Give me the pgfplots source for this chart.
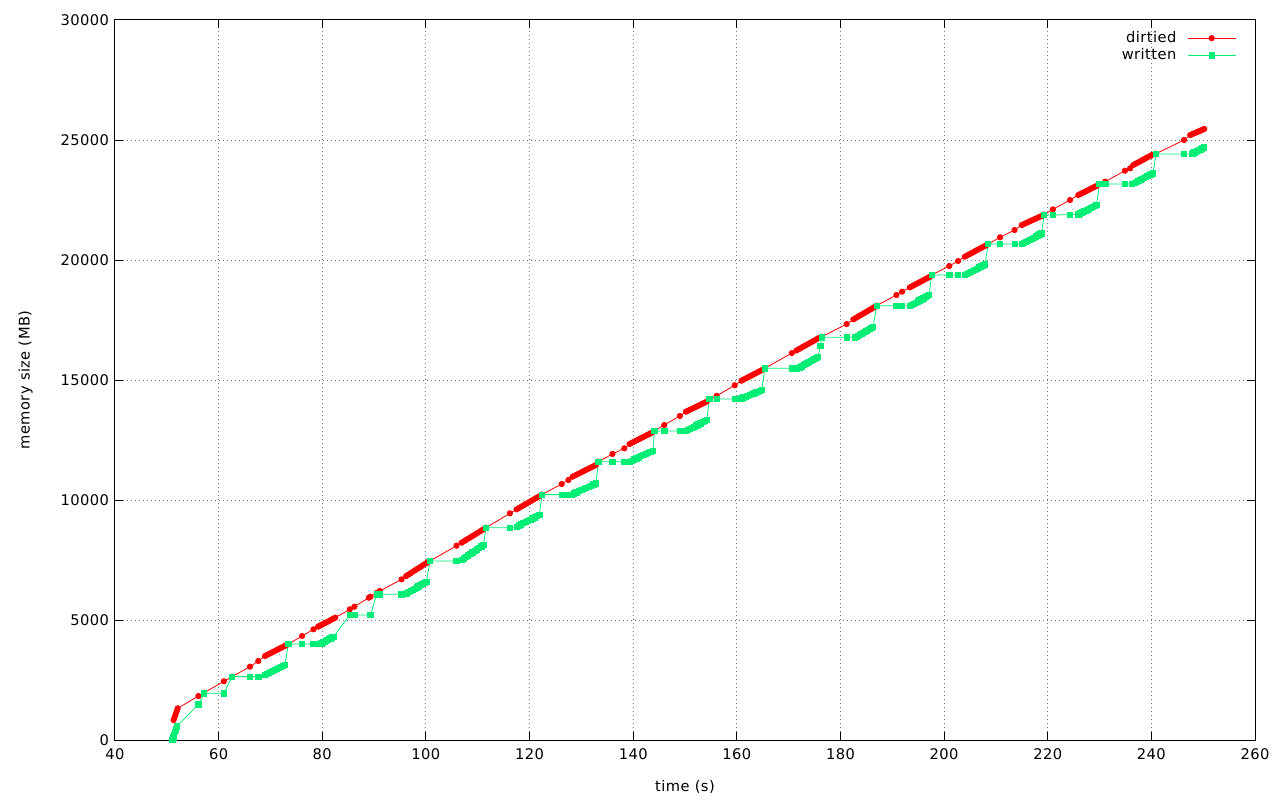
\documentclass[border=0pt]{standalone}
\usepackage{fontspec}
\setmainfont{DejaVu Sans}[LetterSpace=3]
\usepackage{pgfplots}
\pgfplotsset{compat=1.18}
\definecolor{dred}{RGB}{255,0,0}
\definecolor{wgreen}{RGB}{0,238,118}
\begin{document}
\begin{tikzpicture}[font=\fontsize{11pt}{13pt}\selectfont]
\begin{axis}[
  at={(0,0)}, anchor=south west,
  scale only axis, width=855pt, height=540pt,
  xmin=40, xmax=260, ymin=0, ymax=30000,
  xtick={40,60,...,260}, ytick={0,5000,...,30000},
  scaled ticks=false,
  /pgf/number format/.cd, 1000 sep={}, assume math mode=true, /pgfplots/.cd,
  tick align=inside, xtick pos=both, ytick pos=both,
  major tick length=6pt,
  axis line style={line width=0.75pt, black},
  every tick/.style={black, line width=0.75pt},
  grid=major,
  major grid style={black!55, line width=0.75pt, dash pattern=on 0.75pt off 2.25pt},
  yticklabel style={xshift=-1pt},
  xticklabel style={yshift=-3pt},
  every axis x label/.style={at={(axis description cs:0.5,0)}, anchor=center, yshift=-35pt},
  every axis y label/.style={at={(axis description cs:0,0.5)}, xshift=-67pt, rotate=90, anchor=center},
  xlabel={time (s)}, ylabel={memory size (MB)},
  legend style={draw=none, fill=none, at={(1,1)}, anchor=north east, xshift=-11pt, yshift=-5pt,
    row sep=0pt, nodes={inner sep=1.5pt}},
  legend cell align=right, legend plot pos=right,
  legend image code/.code={\path[draw=none,fill=none] (0pt,-0.5pt) rectangle (7pt,0.5pt);\draw[mark repeat=2,mark phase=2,#1] plot coordinates {(7pt,0pt) (25pt,0pt) (43pt,0pt)};},
]
\addplot[color=dred, line width=0.6pt, mark=*, mark size=2pt, mark options={solid, fill=dred, draw=dred}] table {
x y
51.30 830
51.46 928
51.62 1026
51.78 1124
51.94 1222
52.10 1320
56.10 1833
57.20 1970
61.00 2444
62.60 2640
66.05 3055
67.65 3292
68.95 3500
69.37 3546
69.78 3592
70.20 3637
70.61 3683
71.03 3729
71.44 3775
71.86 3821
72.27 3866
72.69 3912
73.10 3958
73.45 4000
76.10 4333
78.30 4611
79.20 4722
79.53 4760
79.86 4797
80.19 4835
80.52 4872
80.85 4910
81.18 4947
81.51 4985
81.84 5022
82.17 5060
82.50 5097
85.30 5444
86.20 5555
89.00 5930
89.30 5972
90.50 6130
91.10 6208
95.30 6694
96.20 6833
96.63 6893
97.06 6952
97.49 7012
97.92 7072
98.35 7132
98.78 7191
99.21 7251
99.64 7311
100.07 7370
100.50 7430
100.80 7458
105.90 8097
106.90 8222
107.35 8282
107.80 8341
108.25 8401
108.70 8461
109.15 8521
109.60 8580
110.05 8640
110.50 8700
110.95 8759
111.40 8819
111.60 8845
116.20 9444
117.50 9611
117.98 9671
118.46 9730
118.94 9790
119.42 9850
119.90 9910
120.38 9969
120.86 10029
121.34 10089
121.82 10148
122.30 10208
122.40 10225
126.20 10667
127.50 10833
128.30 10972
128.75 11021
129.20 11069
129.65 11118
130.10 11166
130.55 11215
131.00 11264
131.45 11312
131.90 11361
132.35 11409
132.80 11458
133.30 11597
136.00 11917
138.30 12153
139.30 12333
139.73 12380
140.16 12427
140.59 12475
141.02 12522
141.45 12569
141.88 12616
142.31 12663
142.74 12711
143.17 12758
143.60 12805
144.10 12875
146.00 13125
149.00 13500
150.20 13680
150.60 13722
151.00 13763
151.40 13805
151.80 13847
152.20 13889
152.60 13930
153.00 13972
153.40 14014
153.80 14055
154.20 14097
154.70 14208
156.10 14340
159.60 14780
160.90 14972
161.32 15019
161.74 15066
162.16 15114
162.58 15161
163.00 15208
163.42 15255
163.84 15302
164.26 15350
164.68 15397
165.10 15444
165.40 15486
170.60 16120
171.50 16230
171.92 16281
172.34 16331
172.76 16382
173.18 16432
173.60 16483
174.02 16534
174.44 16584
174.86 16635
175.28 16685
175.70 16736
176.10 16770
176.40 16800
181.20 17333
182.50 17528
182.92 17581
183.34 17633
183.76 17686
184.18 17739
184.60 17792
185.02 17844
185.44 17897
185.86 17950
186.28 18002
186.70 18055
187.00 18100
190.80 18541
191.90 18680
193.40 18861
193.79 18905
194.18 18950
194.57 18994
194.96 19039
195.35 19083
195.74 19127
196.13 19172
196.52 19216
196.91 19261
197.30 19305
197.60 19375
201.00 19750
202.70 19958
204.00 20139
204.42 20188
204.84 20236
205.26 20285
205.68 20333
206.10 20382
206.52 20431
206.94 20479
207.36 20528
207.78 20576
208.20 20625
208.50 20667
210.80 20944
213.60 21250
215.00 21458
215.42 21500
215.84 21541
216.26 21583
216.68 21625
217.10 21667
217.52 21708
217.94 21750
218.36 21792
218.78 21833
219.20 21875
219.30 21890
221.00 22110
224.30 22500
225.90 22708
226.25 22746
226.60 22783
226.95 22821
227.30 22858
227.65 22896
228.00 22933
228.35 22971
228.70 23008
229.05 23046
229.40 23083
230.00 23167
231.10 23264
234.90 23722
235.90 23819
236.50 23958
236.86 24000
237.22 24041
237.58 24083
237.94 24125
238.30 24167
238.66 24208
239.02 24250
239.38 24292
239.74 24333
240.10 24375
240.90 24430
246.30 25000
247.50 25208
247.80 25236
248.10 25264
248.40 25292
248.70 25319
249.00 25347
249.30 25375
249.60 25403
249.90 25431
250.20 25458
};
\addlegendentry{dirtied}
\addplot[color=wgreen, line width=0.6pt, mark=square*, mark size=2pt, mark options={solid, fill=wgreen, draw=wgreen}] table {
x y
51.10 0
51.26 112
51.42 224
51.58 336
51.74 448
51.90 560
56.10 1486
57.20 1944
61.00 1944
62.60 2640
66.05 2640
67.65 2640
68.95 2708
69.34 2750
69.72 2791
70.11 2833
70.49 2875
70.88 2917
71.26 2958
71.65 3000
72.03 3042
72.42 3083
72.80 3125
73.45 4000
76.10 4000
78.30 4000
79.20 4000
79.50 4010
79.80 4030
80.10 4060
80.40 4095
80.70 4130
81.00 4165
81.30 4200
81.60 4235
81.90 4270
82.20 4306
85.30 5208
86.20 5208
89.30 5208
90.50 6069
91.10 6069
95.30 6069
96.30 6111
96.68 6160
97.06 6208
97.44 6257
97.82 6305
98.20 6354
98.58 6403
98.96 6451
99.34 6500
99.72 6548
100.10 6597
100.80 7458
105.90 7458
106.90 7500
107.32 7563
107.74 7625
108.16 7688
108.58 7750
109.00 7813
109.42 7875
109.84 7938
110.26 8000
110.68 8063
111.10 8125
111.60 8840
116.20 8840
117.50 8889
117.94 8938
118.38 8986
118.82 9035
119.26 9083
119.70 9132
120.14 9181
120.58 9229
121.02 9278
121.46 9326
121.90 9375
122.40 10225
126.20 10225
127.50 10225
128.10 10225
128.57 10272
129.04 10319
129.51 10366
129.98 10413
130.45 10460
130.92 10506
131.39 10553
131.86 10600
132.33 10647
132.80 10694
133.30 11597
136.00 11597
138.30 11597
139.30 11597
139.75 11643
140.20 11689
140.65 11734
141.10 11780
141.55 11826
142.00 11872
142.45 11918
142.90 11963
143.35 12009
143.80 12055
144.10 12875
146.00 12875
149.00 12875
150.20 12875
150.60 12921
151.00 12967
151.40 13012
151.80 13058
152.20 13104
152.60 13150
153.00 13196
153.40 13241
153.80 13287
154.20 13333
154.70 14208
156.10 14208
159.60 14208
160.90 14236
161.29 14271
161.68 14305
162.07 14340
162.46 14375
162.85 14410
163.24 14444
163.63 14479
164.02 14514
164.41 14548
164.80 14583
165.40 15486
170.60 15486
171.50 15486
172.20 15528
172.55 15572
172.90 15617
173.25 15661
173.60 15706
173.95 15750
174.30 15794
174.65 15839
175.00 15883
175.35 15928
175.70 15972
176.10 16417
176.40 16778
181.20 16778
182.80 16778
183.10 16806
183.42 16848
183.74 16889
184.06 16931
184.38 16972
184.70 17014
185.02 17056
185.34 17097
185.66 17139
185.98 17180
186.30 17222
187.00 18097
190.80 18090
191.90 18090
193.40 18090
193.77 18135
194.14 18180
194.51 18225
194.88 18270
195.25 18316
195.62 18361
195.99 18406
196.36 18451
196.73 18496
197.10 18541
197.60 19375
201.00 19375
202.70 19375
204.00 19375
204.39 19420
204.78 19464
205.17 19509
205.56 19553
205.95 19598
206.34 19642
206.73 19687
207.12 19731
207.51 19776
207.90 19820
208.50 20667
210.80 20667
213.60 20667
215.00 20667
215.38 20711
215.76 20756
216.14 20800
216.52 20845
216.90 20889
217.28 20933
217.66 20978
218.04 21022
218.42 21067
218.80 21111
219.30 21875
221.00 21875
224.30 21890
225.90 21903
226.25 21942
226.60 21981
226.95 22020
227.30 22059
227.65 22098
228.00 22136
228.35 22175
228.70 22214
229.05 22253
229.40 22292
230.00 23167
231.10 23167
234.90 23167
236.20 23167
236.80 23222
237.15 23261
237.50 23300
237.85 23339
238.20 23378
238.55 23417
238.90 23456
239.25 23494
239.60 23533
239.95 23572
240.30 23611
240.90 24417
246.30 24417
247.80 24417
248.00 24445
248.30 24479
248.60 24513
248.90 24547
249.20 24581
249.50 24615
249.80 24649
250.20 24695
};
\addlegendentry{written}
\end{axis}
\pgfresetboundingbox
\useasboundingbox (-86.25pt,-45pt) rectangle (873.75pt,555pt);
\end{tikzpicture}
\end{document}
